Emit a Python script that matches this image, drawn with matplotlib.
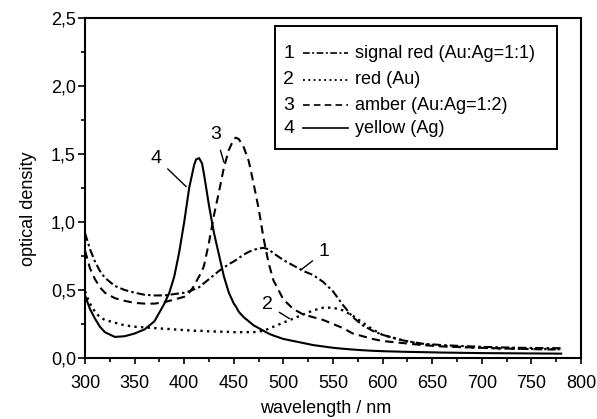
import matplotlib.pyplot as plt
from matplotlib.patches import Rectangle
from matplotlib.ticker import MultipleLocator, FuncFormatter

plt.rcParams['font.family'] = ['Liberation Sans', 'DejaVu Sans']

# wavelength grid (nm)
wavelength = [300, 305, 310, 315, 320, 330, 340, 350, 360, 370, 380, 385, 390, 395, 400, 405,
              410, 412, 415, 418, 420, 425, 430, 435, 440, 445, 450, 452, 455, 460, 465, 470,
              475, 480, 485, 490, 500, 510, 520, 530, 540, 550, 560, 570, 580, 590, 600, 620,
              640, 660, 680, 700, 720, 740, 760, 780]

# 1 signal red (Au:Ag=1:1)
signal_red = [0.92, 0.80, 0.71, 0.64, 0.59, 0.53, 0.50, 0.48, 0.465, 0.46, 0.46, 0.465, 0.47,
              0.475, 0.48, 0.49, 0.505, 0.51, 0.52, 0.54, 0.55, 0.58, 0.61, 0.64, 0.665, 0.69,
              0.71, 0.72, 0.735, 0.76, 0.78, 0.795, 0.805, 0.81, 0.80, 0.77, 0.72, 0.68, 0.64,
              0.61, 0.56, 0.49, 0.39, 0.30, 0.24, 0.20, 0.17, 0.13, 0.105, 0.095, 0.088, 0.082,
              0.078, 0.075, 0.073, 0.072]

# 2 red (Au)
red_au = [0.49, 0.40, 0.34, 0.30, 0.28, 0.26, 0.24, 0.23, 0.225, 0.22, 0.215, 0.213, 0.21,
          0.208, 0.205, 0.203, 0.20, 0.20, 0.20, 0.199, 0.198, 0.196, 0.195, 0.194, 0.193,
          0.192, 0.19, 0.19, 0.19, 0.19, 0.19, 0.19, 0.195, 0.20, 0.215, 0.23, 0.26, 0.29,
          0.32, 0.35, 0.37, 0.37, 0.35, 0.31, 0.26, 0.21, 0.17, 0.13, 0.10, 0.09, 0.08, 0.075,
          0.07, 0.068, 0.066, 0.065]

# 3 amber (Au:Ag=1:2)
amber = [0.79, 0.66, 0.58, 0.52, 0.48, 0.44, 0.42, 0.405, 0.40, 0.40, 0.41, 0.42, 0.43, 0.44,
         0.45, 0.48, 0.53, 0.56, 0.60, 0.64, 0.68, 0.85, 1.05, 1.22, 1.40, 1.53, 1.61, 1.62,
         1.61, 1.55, 1.45, 1.28, 1.10, 0.88, 0.70, 0.57, 0.43, 0.36, 0.32, 0.30, 0.28, 0.25,
         0.22, 0.18, 0.16, 0.14, 0.125, 0.11, 0.095, 0.085, 0.08, 0.075, 0.07, 0.067, 0.064,
         0.062]

# 4 yellow (Ag)
yellow = [0.46, 0.36, 0.29, 0.23, 0.19, 0.155, 0.16, 0.18, 0.21, 0.27, 0.40, 0.48, 0.60, 0.78,
          1.00, 1.25, 1.42, 1.46, 1.47, 1.43, 1.35, 1.12, 0.92, 0.76, 0.60, 0.48, 0.40, 0.38,
          0.34, 0.30, 0.27, 0.24, 0.22, 0.20, 0.18, 0.165, 0.14, 0.125, 0.11, 0.095, 0.085,
          0.075, 0.068, 0.062, 0.057, 0.053, 0.05, 0.046, 0.043, 0.04, 0.038, 0.036, 0.035,
          0.034, 0.033, 0.032]

numbers = ["1", "2", "3", "4"]
names = ["signal red (Au:Ag=1:1)", "red (Au)", "amber (Au:Ag=1:2)", "yellow (Ag)"]
series = [signal_red, red_au, amber, yellow]
styles = [(0, (4, 1.5, 1.2, 1.5)), (0, (1, 1.8)), (0, (4, 2.5)), "-"]
widths = [1.5, 1.7, 1.5, 1.5]

# number labels on the curves: text position, end of leader line
label_text = [(541, 0.78), (484, 0.39), (432, 1.64), (372, 1.47)]
label_tip = [(518, 0.65), (506, 0.29), (440, 1.44), (402, 1.26)]

fig = plt.figure(figsize=(5.97, 4.19), dpi=100)
ax = fig.add_axes([0.1424, 0.1456, 0.8308, 0.8114])

for y, ls, lw in zip(series, styles, widths):
    ax.plot(wavelength, y, color="black", linestyle=ls, linewidth=lw)

for num, (tx, ty), tip in zip(numbers, label_text, label_tip):
    ax.annotate(num, xy=tip, xytext=(tx, ty), fontsize=14, ha="center", va="center",
                arrowprops=dict(arrowstyle="-", color="black", lw=1.0, shrinkA=3, shrinkB=0))

ax.set_xlim(300, 800)
ax.set_ylim(0, 2.5)
ax.xaxis.set_major_locator(MultipleLocator(50))
ax.xaxis.set_minor_locator(MultipleLocator(25))
ax.yaxis.set_major_locator(MultipleLocator(0.5))
ax.yaxis.set_minor_locator(MultipleLocator(0.25))
ax.yaxis.set_major_formatter(FuncFormatter(lambda v, p: f"{v:.1f}".replace(".", ",")))
ax.tick_params(which="both", direction="out", labelsize=13, width=1.2)
ax.tick_params(axis="x", which="major", length=4, pad=8)
ax.tick_params(axis="y", which="major", length=5, pad=1.5)
ax.tick_params(which="minor", length=3)
for s in ax.spines.values():
    s.set_linewidth(1.5)

ax.set_xlabel("wavelength / nm", fontsize=13)
ax.set_ylabel("optical density", fontsize=13)
ax.xaxis.set_label_coords(0.486, -0.125)
ax.yaxis.set_label_coords(-0.097, 0.44)

# legend box drawn by hand: number, line sample, text
ax.add_patch(Rectangle((0.383, 0.615), 0.569, 0.361, transform=ax.transAxes,
                       fill=False, linewidth=1.4, edgecolor="black"))
rows = [0.897, 0.818, 0.744, 0.676]
for num, name, ls, lw, ry in zip(numbers, names, styles, widths, rows):
    ax.text(0.411, ry, num, transform=ax.transAxes, fontsize=14, ha="center", va="center")
    ax.plot([0.440, 0.530], [ry, ry], transform=ax.transAxes, color="black",
            linestyle=ls, linewidth=lw * 0.8)
    ax.text(0.544, ry, name, transform=ax.transAxes, fontsize=13, ha="left", va="center")

fig.savefig("out.png", dpi=100)
